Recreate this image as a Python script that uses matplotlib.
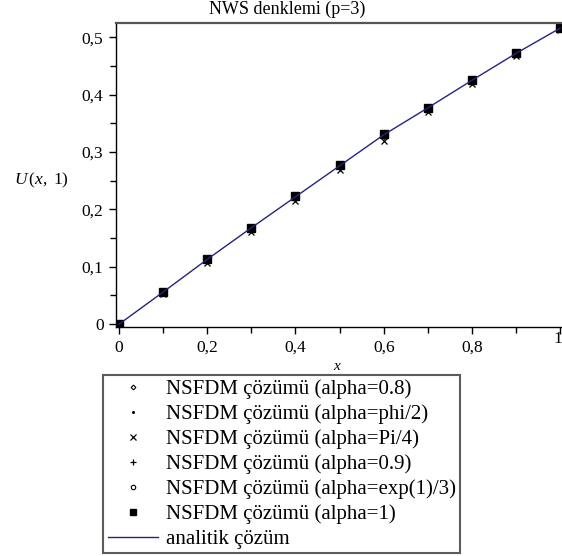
import matplotlib
matplotlib.use("Agg")
import matplotlib.pyplot as plt
from matplotlib.ticker import MultipleLocator, FuncFormatter

plt.rcParams["font.family"] = ["Liberation Serif", "DejaVu Serif"]
plt.rcParams["mathtext.fontset"] = "custom"
plt.rcParams["mathtext.rm"] = "Liberation Serif"
plt.rcParams["mathtext.it"] = "Liberation Serif:italic"

# grid points and solution values at t = 1
x_pts = [0.0, 0.1, 0.2, 0.3, 0.4, 0.5, 0.6, 0.7, 0.8, 0.9, 1.0]
u_exact = [0.0, 0.056, 0.113, 0.168, 0.222, 0.276, 0.330, 0.377, 0.425, 0.472, 0.516]
u_a08 = [0.0, 0.055, 0.112, 0.167, 0.221, 0.275, 0.328, 0.376, 0.424, 0.471, 0.515]
u_aphi = [0.0, 0.055, 0.112, 0.167, 0.221, 0.275, 0.329, 0.376, 0.424, 0.471, 0.515]
u_api4 = [0.0, 0.052, 0.107, 0.161, 0.215, 0.268, 0.320, 0.370, 0.419, 0.467, 0.513]
u_a09 = [0.0, 0.056, 0.113, 0.168, 0.222, 0.276, 0.329, 0.377, 0.425, 0.472, 0.516]
u_aexp = [0.0, 0.056, 0.113, 0.168, 0.222, 0.276, 0.329, 0.377, 0.425, 0.472, 0.516]
u_a1 = [0.0, 0.056, 0.113, 0.168, 0.223, 0.277, 0.331, 0.377, 0.426, 0.472, 0.516]

labels = [
    "NSFDM çözümü (alpha=0.8)",
    "NSFDM çözümü (alpha=phi/2)",
    "NSFDM çözümü (alpha=Pi/4)",
    "NSFDM çözümü (alpha=0.9)",
    "NSFDM çözümü (alpha=exp(1)/3)",
    "NSFDM çözümü (alpha=1)",
    "analitik çözüm",
]

W, H = 562, 556
fig = plt.figure(figsize=(W / 100, H / 100), dpi=100)
ax = fig.add_axes([116 / W, 1 - 327 / H, 445 / W, (327 - 22.7) / H])

series = [
    (u_a08, dict(marker="D", ms=3.0, mfc="white", mec="black", mew=0.8)),
    (u_aphi, dict(marker=".", ms=3.0, color="black")),
    (u_api4, dict(marker="x", ms=5.0, color="black", mew=0.9)),
    (u_a09, dict(marker="+", ms=5.0, color="black", mew=0.9)),
    (u_aexp, dict(marker="o", ms=4.0, mfc="white", mec="black", mew=0.8)),
    (u_a1, dict(marker="s", ms=5.5, color="black")),
]
for (vals, style), lab in zip(series, labels):
    ax.plot(x_pts, vals, linestyle="none", label=lab, **style)

ax.plot(x_pts, u_exact, color="#24247a", lw=1.0, label=labels[-1], zorder=5)

ax.set_xlim(-0.007, 1.002)
ax.set_ylim(-0.005, 0.5255)

ax.xaxis.set_major_locator(MultipleLocator(0.2))
ax.xaxis.set_minor_locator(MultipleLocator(0.1))
ax.yaxis.set_major_locator(MultipleLocator(0.1))
ax.yaxis.set_minor_locator(MultipleLocator(0.05))


def comma_fmt(v, pos):
    if abs(v) < 1e-9:
        return "0"
    if abs(v - round(v)) < 1e-9:
        return str(int(round(v)))
    return f"{v:.1f}".replace(".", ",")


def x_fmt(v, pos):
    # the "1" at the right end is placed by hand so it stays on the canvas
    if v > 0.99:
        return ""
    return comma_fmt(v, pos)


ax.xaxis.set_major_formatter(FuncFormatter(x_fmt))
ax.yaxis.set_major_formatter(FuncFormatter(comma_fmt))
ax.tick_params(which="major", direction="out", length=5, width=1, labelsize=12.5, pad=4)
ax.tick_params(which="minor", direction="out", length=4, width=1)
ax.text(0.995, -0.014, "1", transform=ax.get_xaxis_transform(), ha="center", va="top",
        fontsize=12.5)

ax.spines["right"].set_visible(False)
ax.spines["top"].set_color("#555555")
ax.spines["top"].set_linewidth(1.6)
for s in ("left", "bottom"):
    ax.spines[s].set_color("black")
    ax.spines[s].set_linewidth(1.0)

fig.text(287 / W, 1 - 9 / H, "NWS denklemi (p=3)", ha="center", va="center", fontsize=13)
fig.text(41 / W, 1 - 180 / H, r"$U\,(x,\ 1)$", ha="center", va="center", fontsize=12.5)
fig.text(337 / W, 1 - 366 / H, r"$x$", ha="center", va="center", fontsize=11)

leg = ax.legend(
    loc="upper left",
    bbox_to_anchor=(103 / W, 1 - 375 / H),
    bbox_transform=fig.transFigure,
    borderaxespad=0,
    fancybox=False,
    frameon=True,
    fontsize=15,
    handlelength=2.4,
    handletextpad=0.4,
    borderpad=0.22,
    labelspacing=0.25,
    numpoints=1,
    markerscale=0.8,
)
leg.get_frame().set_edgecolor("#333333")
leg.get_frame().set_linewidth(1.5)

fig.savefig("out.png", dpi=100)
